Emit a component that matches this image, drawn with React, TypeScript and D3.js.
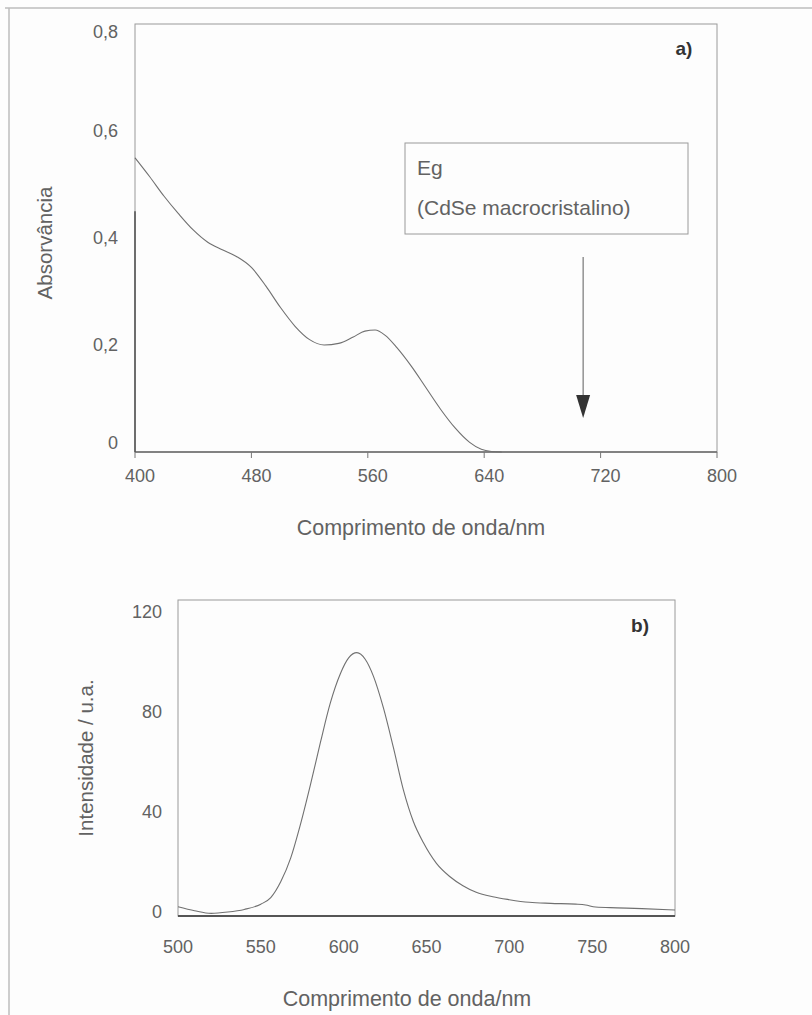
import React from "react";
import * as d3 from "d3";

// Panel a: absorption spectrum
const absWl = [400, 410, 420, 430, 440, 450, 460, 470, 480, 490, 500, 510, 520, 530, 540, 550, 558, 565, 572, 580, 590, 600, 610, 620, 630, 638, 645, 652];
const absVal = [0.55, 0.515, 0.478, 0.445, 0.415, 0.392, 0.378, 0.365, 0.345, 0.31, 0.27, 0.235, 0.21, 0.2, 0.203, 0.215, 0.226, 0.228, 0.218, 0.195, 0.16, 0.12, 0.08, 0.045, 0.018, 0.005, 0.001, 0];
const absEdge = [0, 0.45];
const absXTicks = [400, 480, 560, 640, 720, 800];
const absYTicks = [0, 0.2, 0.4, 0.6, 0.8];
const egWavelength = 708;

// Panel b: photoluminescence spectrum
const plWl = [500, 510, 520, 530, 540, 550, 556, 562, 568, 574, 580, 586, 592, 598, 603, 608, 613, 618, 624, 630, 636, 642, 648, 656, 664, 672, 680, 690, 700, 712, 725, 740, 746, 752, 765, 780, 800];
const plVal = [3.5, 2, 1, 1.5, 2.5, 4.5, 7, 13, 22, 35, 50, 66, 81, 92, 98, 100, 97.5, 91, 79, 64, 48, 36, 28, 20, 15, 11.5, 9, 7.3, 6.2, 5.2, 4.8, 4.5, 4.2, 3.4, 3.1, 2.8, 2.3];
const plXTicks = [500, 550, 600, 650, 700, 750, 800];
const plYTicks = [0, 40, 80, 120];

const FONT = "'Liberation Sans', Arial, sans-serif";
const TXT = "#626262";
const BOX = "#9a9a9a";
const CURVE = "#707070";

export default function App() {
  // panel a scales
  const xa = d3.scaleLinear().domain([400, 800]).range([135, 717]);
  const ya = d3.scaleLinear().domain([0, 0.8]).range([452, 24]);
  // panel b scales
  const xb = d3.scaleLinear().domain([500, 800]).range([178, 675]);
  const yb = d3.scaleLinear().domain([0, 120]).range([916, 600]);
  const ybLabel = d3.scaleLinear().domain([0, 120]).range([912, 612]);

  const lineA = d3
    .line<number>()
    .x((_, i) => xa(absWl[i]))
    .y((d) => ya(d))
    .curve(d3.curveMonotoneX);
  const lineB = d3
    .line<number>()
    .x((_, i) => xb(plWl[i]))
    .y((d) => yb(d))
    .curve(d3.curveMonotoneX);

  const aLabelY = (v: number) => ya(v) + (v === 0 ? -9 : v === 0.8 ? 8 : 0);

  const arrowX = xa(egWavelength);

  return (
    <svg
      width={812}
      height={1015}
      style={{ position: "absolute", left: 0, top: 0, background: "#fdfdfd" }}
      fontFamily={FONT}
    >
      {/* outer frame */}
      <line x1={5} x2={812} y1={8} y2={8} stroke="#bdbdbd" strokeWidth={1.5} />
      <line x1={9} x2={9} y1={8} y2={1015} stroke="#bdbdbd" strokeWidth={1.5} />

      {/* ---------- panel a ---------- */}
      <rect x={xa(400)} y={ya(0.8)} width={xa(800) - xa(400)} height={ya(0) - ya(0.8)} fill="none" stroke={BOX} strokeWidth={1} />
      <line x1={xa(400)} x2={xa(800)} y1={ya(0)} y2={ya(0)} stroke="#6a6a6a" strokeWidth={1.6} />
      <line x1={xa(400)} x2={xa(400)} y1={ya(absEdge[0])} y2={ya(absEdge[1])} stroke="#555" strokeWidth={1.6} />
      {absXTicks.map((t) => (
        <g key={"ax" + t}>
          <line x1={xa(t)} x2={xa(t)} y1={ya(0)} y2={ya(0) + 6} stroke="#777" strokeWidth={1} />
          <text x={xa(t) + 5} y={ya(0) + 30} textAnchor="middle" fontSize={18} fill={TXT}>
            {t}
          </text>
        </g>
      ))}
      {absYTicks.map((t) => (
        <text key={"ay" + t} x={118} y={aLabelY(t)} dy="0.35em" textAnchor="end" fontSize={18} fill={TXT}>
          {t === 0 ? "0" : t.toFixed(1).replace(".", ",")}
        </text>
      ))}
      <path d={lineA(absVal) || ""} fill="none" stroke={CURVE} strokeWidth={1.1} />
      <text x={45} y={243} transform="rotate(-90 45 243)" textAnchor="middle" dy="0.35em" fontSize={20.5} fill={TXT}>
        Absorvância
      </text>
      <text x={421} y={527} textAnchor="middle" dy="0.35em" fontSize={21.5} fill={TXT}>
        Comprimento de onda/nm
      </text>
      <text x={684} y={48} textAnchor="middle" dy="0.35em" fontSize={19} fontWeight="bold" fill="#333">
        a)
      </text>

      {/* annotation box and arrow */}
      <rect x={405} y={143} width={283} height={91} fill="none" stroke={BOX} strokeWidth={1} />
      <text x={417} y={168} dy="0.35em" fontSize={21} fill={TXT}>
        Eg
      </text>
      <text x={417} y={208} dy="0.35em" fontSize={21} fill={TXT}>
        (CdSe macrocristalino)
      </text>
      <line x1={arrowX} x2={arrowX} y1={257} y2={400} stroke="#777" strokeWidth={1.2} />
      <path d={`M${arrowX - 7},395 L${arrowX + 7},395 L${arrowX},418 Z`} fill="#333" />

      {/* ---------- panel b ---------- */}
      <rect x={xb(500)} y={yb(120)} width={xb(800) - xb(500)} height={yb(0) - yb(120)} fill="none" stroke={BOX} strokeWidth={1} />
      <line x1={xb(500)} x2={xb(800)} y1={yb(0)} y2={yb(0)} stroke="#555" strokeWidth={2} />
      {plXTicks.map((t) => (
        <text key={"bx" + t} x={xb(t)} y={yb(0) + 31} textAnchor="middle" dy="0.35em" fontSize={18} fill={TXT}>
          {t}
        </text>
      ))}
      {plYTicks.map((t) => (
        <text key={"by" + t} x={162} y={ybLabel(t)} dy="0.35em" textAnchor="end" fontSize={18} fill={TXT}>
          {t}
        </text>
      ))}
      <path d={lineB(plVal) || ""} fill="none" stroke={CURVE} strokeWidth={1.1} />
      <text x={86} y={758} transform="rotate(-90 86 758)" textAnchor="middle" dy="0.35em" fontSize={20.5} fill={TXT}>
        Intensidade / u.a.
      </text>
      <text x={407} y={998} textAnchor="middle" dy="0.35em" fontSize={21.5} fill={TXT}>
        Comprimento de onda/nm
      </text>
      <text x={640} y={625} textAnchor="middle" dy="0.35em" fontSize={19} fontWeight="bold" fill="#333">
        b)
      </text>
    </svg>
  );
}
